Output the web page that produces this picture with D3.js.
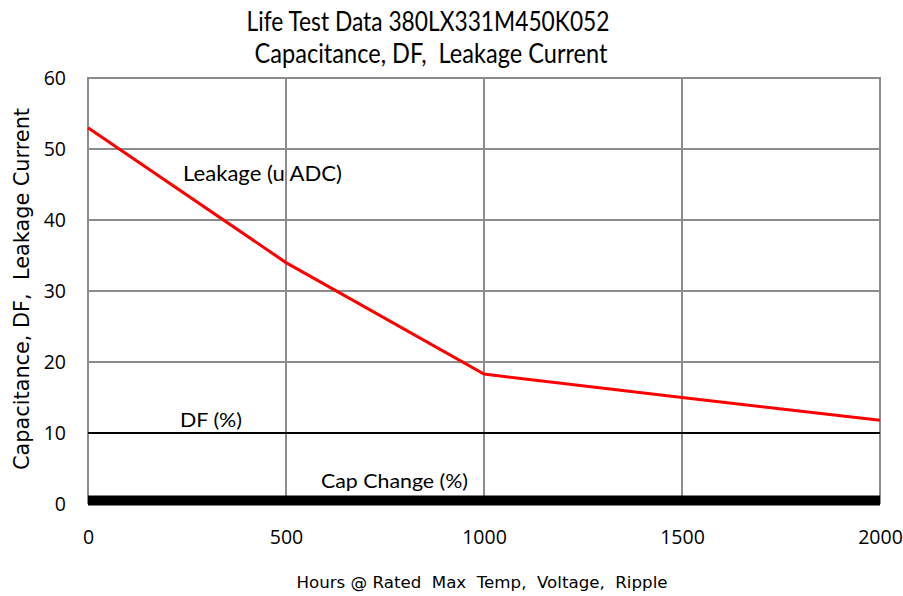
<!DOCTYPE html>
<html><head><meta charset="utf-8">
<script src="https://cdn.jsdelivr.net/npm/d3@7"></script>
<style>body{margin:0;background:#fff}svg{display:block}text{white-space:pre}</style>
</head><body>
<svg id="c" width="903" height="596"></svg>
<script>
const hours = [0, 500, 1000, 1500, 2000];
const leakage = [53, 34, 18.3, 15.0, 11.8];
const df = [10, 10, 10, 10, 10];
const capChange = [0.5, 0.5, 0.5, 0.5, 0.5];
const xTicks = [0, 500, 1000, 1500, 2000];
const yTicks = [0, 10, 20, 30, 40, 50, 60];
const titleLines = ["Life Test Data 380LX331M450K052", "Capacitance, DF,  Leakage Current"];

const svg = d3.select("#c");
const x = d3.scaleLinear().domain([0, 2000]).range([88, 880]);
const y = d3.scaleLinear().domain([0, 60]).range([504, 78]);
const calibri = "Lato, 'Open Sans', sans-serif";
const tahoma = "'DejaVu Sans', Verdana, sans-serif";

// gridlines
svg.append("g").selectAll("line").data(yTicks.filter(d => d > 0)).join("line")
  .attr("x1", x(0)).attr("x2", x(2000)).attr("y1", d => y(d)).attr("y2", d => y(d))
  .attr("stroke", "#8c8c8c").attr("stroke-width", 2);
svg.append("g").selectAll("line").data(xTicks.filter(d => d > 0)).join("line")
  .attr("x1", d => x(d)).attr("x2", d => x(d)).attr("y1", y(60) - 1).attr("y2", y(0))
  .attr("stroke", "#8c8c8c").attr("stroke-width", 2);
svg.append("line").attr("x1", x(0)).attr("x2", x(0)).attr("y1", y(60) - 1).attr("y2", y(0))
  .attr("stroke", "#8c8c8c").attr("stroke-width", 2);

const yAxis = svg.append("g").attr("transform", `translate(${x(0)},0)`)
  .call(d3.axisLeft(y).tickValues(yTicks).tickFormat(d3.format("d")).tickSize(0).tickPadding(22));
yAxis.select(".domain").remove();
yAxis.selectAll("text").attr("font-family", "'Open Sans', sans-serif").attr("font-size", 19.5).attr("fill", "#000");
const xAxis = svg.append("g").attr("transform", `translate(0,${y(0)})`)
  .call(d3.axisBottom(x).tickValues(xTicks).tickFormat(d3.format("d")).tickSize(0).tickPadding(26));
xAxis.select(".domain").remove();
xAxis.selectAll("text").attr("font-family", "'Open Sans', sans-serif").attr("font-size", 19.5).attr("fill", "#000");

const line = d3.line().x((d, i) => x(hours[i])).y(d => y(d));
svg.append("path").datum(capChange).attr("d", line).attr("fill", "none")
  .attr("stroke", "#000").attr("stroke-width", 10);
svg.append("path").datum(df).attr("d", line).attr("fill", "none")
  .attr("stroke", "#000").attr("stroke-width", 2);
svg.append("path").datum(leakage).attr("d", line).attr("fill", "none")
  .attr("stroke", "#ff0000").attr("stroke-width", 3);

// series labels
svg.append("text").attr("x", 183).attr("y", 181).attr("font-family", calibri).attr("font-size", 21)
  .attr("textLength", 159).attr("lengthAdjust", "spacingAndGlyphs").text("Leakage (u ADC)");
svg.append("line").attr("x1", x(500)).attr("x2", x(500)).attr("y1", 150).attr("y2", 200)
  .attr("stroke", "#8c8c8c").attr("stroke-width", 2);
svg.append("text").attr("x", 180).attr("y", 427).attr("font-family", calibri).attr("font-size", 20)
  .attr("textLength", 62).attr("lengthAdjust", "spacingAndGlyphs").text("DF (%)");
svg.append("text").attr("x", 321).attr("y", 488).attr("font-family", calibri).attr("font-size", 20)
  .attr("textLength", 147).attr("lengthAdjust", "spacingAndGlyphs").text("Cap Change (%)");

// titles
svg.append("text").attr("x", 428).attr("y", 31).attr("text-anchor", "middle")
  .attr("font-family", calibri).attr("font-size", 26)
  .attr("textLength", 363).attr("lengthAdjust", "spacingAndGlyphs").text(titleLines[0]);
svg.append("text").attr("x", 431).attr("y", 63).attr("text-anchor", "middle")
  .attr("font-family", calibri).attr("font-size", 26)
  .attr("textLength", 353).attr("lengthAdjust", "spacingAndGlyphs").text(titleLines[1]);
svg.append("text").attr("transform", "translate(29,289) rotate(-90)").attr("text-anchor", "middle")
  .attr("font-family", tahoma).attr("font-size", 22)
  .attr("textLength", 362).attr("lengthAdjust", "spacingAndGlyphs").text("Capacitance, DF,  Leakage Current");
svg.append("text").attr("x", 482).attr("y", 588).attr("text-anchor", "middle")
  .attr("font-family", tahoma).attr("font-size", 16)
  .attr("textLength", 371).attr("lengthAdjust", "spacingAndGlyphs").text("Hours @ Rated  Max  Temp,  Voltage,  Ripple");
</script>
</body></html>
